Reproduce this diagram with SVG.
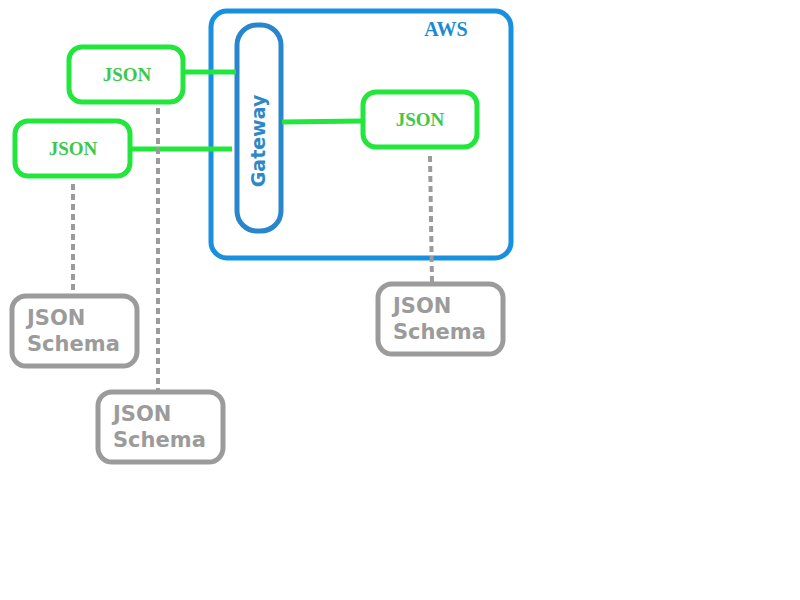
<svg xmlns="http://www.w3.org/2000/svg" width="800" height="600" viewBox="0 0 800 600">
<style>
.green{fill:none;stroke:#22e63c;stroke-width:5}
.gtxt{font-family:"Liberation Serif",serif;font-size:19px;font-weight:bold;fill:#3cc84a;text-anchor:middle}
.gray{fill:#fff;stroke:#9b9b9b;stroke-width:5}
.stxt{font-family:"DejaVu Sans",sans-serif;font-size:21px;font-weight:bold;fill:#9b9b9b}
.conn{stroke:#22e63c;stroke-width:5;fill:none}
.dash{stroke:#9b9b9b;stroke-width:4;stroke-dasharray:6,4;fill:none}
</style>
<rect width="800" height="600" fill="#fff"/>
<g id="aws">
<rect x="211" y="11" width="300" height="247" rx="16" fill="none" stroke="#1890e0" stroke-width="5"/>
<text x="446" y="36" font-family="Liberation Serif,serif" font-size="20" font-weight="bold" fill="#1a8ad4" text-anchor="middle">AWS</text>
</g>
<g id="gateway">
<rect x="237" y="25" width="44" height="206" rx="20" fill="none" stroke="#2a86cc" stroke-width="5"/>
<text transform="translate(265,141) rotate(-90)" font-family="DejaVu Sans,sans-serif" font-size="19" font-weight="bold" fill="#2e88c8" text-anchor="middle">Gateway</text>
</g>
<g id="connectors">
<line class="conn" x1="183" y1="72" x2="236" y2="72"/>
<line class="conn" x1="130" y1="149" x2="232" y2="149"/>
<line class="conn" x1="282" y1="122" x2="363" y2="121"/>
<line class="dash" x1="73" y1="184" x2="73" y2="294"/>
<line class="dash" x1="158" y1="108" x2="158" y2="391"/>
<line class="dash" x1="430" y1="156" x2="432" y2="282"/>
</g>
<g id="json1">
<rect class="green" x="69" y="47" width="114" height="55" rx="13"/>
<text class="gtxt" x="127" y="81">JSON</text>
</g>
<g id="json2">
<rect class="green" x="15" y="121" width="115" height="55" rx="13"/>
<text class="gtxt" x="73" y="155">JSON</text>
</g>
<g id="json3">
<rect class="green" x="363" y="92" width="114" height="55" rx="13"/>
<text class="gtxt" x="420" y="126">JSON</text>
</g>
<g id="schema1">
<rect class="gray" x="12" y="296" width="125" height="70" rx="14"/>
<text class="stxt" x="27" y="325">JSON</text>
<text class="stxt" x="27" y="351">Schema</text>
</g>
<g id="schema2">
<rect class="gray" x="98" y="392" width="125" height="70" rx="14"/>
<text class="stxt" x="113" y="421">JSON</text>
<text class="stxt" x="113" y="447">Schema</text>
</g>
<g id="schema3">
<rect class="gray" x="378" y="284" width="125" height="70" rx="14"/>
<text class="stxt" x="393" y="313">JSON</text>
<text class="stxt" x="393" y="339">Schema</text>
</g>
</svg>
